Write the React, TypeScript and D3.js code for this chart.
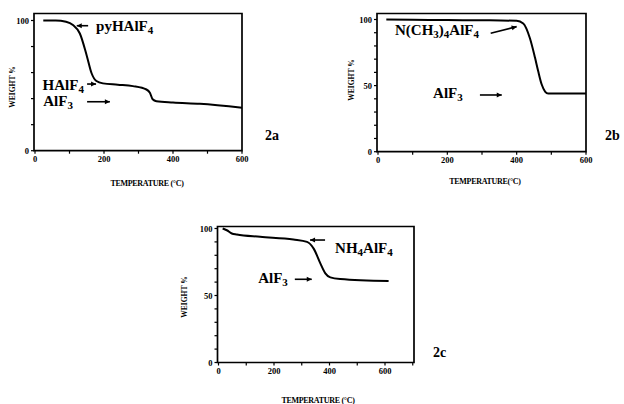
import React, { useEffect, useRef } from 'react';
import * as d3 from 'd3';

// 2a: pyHAlF4
const tempA = [24, 60, 90, 110, 130, 150, 164, 178, 197, 240, 284, 323, 333, 341, 352, 400, 478, 600];
const weightA = [100, 100, 99, 96.5, 90, 73, 59.5, 53.5, 51.7, 50.7, 49.6, 47, 44.5, 39.5, 38, 37, 36, 33];

// 2b: N(CH3)4AlF4
const tempB = [24, 100, 200, 300, 400, 419, 438, 453, 462, 472, 482, 491, 520, 600];
const weightB = [100, 99.8, 99.6, 99.4, 99, 97, 86, 71, 61, 51, 45.5, 44, 44, 44];

// 2c: NH4AlF4
const tempC = [15, 30, 48, 66, 150, 270, 319, 343, 367, 385, 403, 439, 613];
const weightC = [100, 98.7, 96.3, 95.5, 93.8, 91.8, 90, 85, 74, 66.5, 63.5, 62.3, 60.8];

const xTicks = [0, 200, 400, 600];
const yLabelsA = [0, 100];
const yLabelsBC = [0, 50, 100];

const serif = '"Liberation Serif", "DejaVu Serif", serif';

function drawPanel(svg, cfg) {
  const { temps, weights, xr, yr, frameTop, frameRight, yMinor, yLabels, xMax } = cfg;
  const x = d3.scaleLinear().domain([0, 600]).range(xr);
  const y = d3.scaleLinear().domain([0, 100]).range(yr);
  const g = svg.append('g');
  const x0 = x(0) - 1;
  const y0 = y(0);

  // frame
  g.append('path')
    .attr('d', `M${x0},${frameTop}H${frameRight}V${y0}H${x0}Z`)
    .attr('fill', 'none').attr('stroke', '#000').attr('stroke-width', 1.7);

  // y ticks
  g.selectAll('line.ym').data(yMinor).enter().append('line')
    .attr('x1', x0 - 3).attr('x2', x0).attr('y1', d => y(d)).attr('y2', d => y(d))
    .attr('stroke', '#000').attr('stroke-width', 1.2);
  g.selectAll('text.yl').data(yLabels).enter().append('text')
    .attr('x', x0 - 5).attr('y', d => y(d) + 3)
    .attr('text-anchor', 'end').attr('font-family', serif).attr('font-weight', 'bold')
    .attr('font-size', 8.5).text(d => d);

  // x ticks
  g.selectAll('line.xm').data(d3.range(0, xMax + 1, 100)).enter().append('line')
    .attr('x1', d => x(d)).attr('x2', d => x(d)).attr('y1', y0).attr('y2', y0 + 3)
    .attr('stroke', '#000').attr('stroke-width', 1.2);
  g.selectAll('text.xl').data(xTicks).enter().append('text')
    .attr('x', d => x(d)).attr('y', y0 + 11)
    .attr('text-anchor', 'middle').attr('font-family', serif).attr('font-weight', 'bold')
    .attr('font-size', 8.5).text(d => d);

  // curve
  const line = d3.line().x(d => x(d[0])).y(d => y(d[1])).curve(d3.curveMonotoneX);
  g.append('path')
    .attr('d', line(temps.map((t, i) => [t, weights[i]])))
    .attr('fill', 'none').attr('stroke', '#000').attr('stroke-width', 2);

  // axis titles
  g.append('text')
    .attr('transform', `translate(${cfg.yTitleX},${cfg.yTitleY}) rotate(-90)`)
    .attr('text-anchor', 'middle').attr('font-family', serif).attr('font-weight', 'bold')
    .attr('font-size', 7.5).text('WEIGHT %');
  g.append('text')
    .attr('x', cfg.xTitleX).attr('y', cfg.xTitleY)
    .attr('text-anchor', 'middle').attr('font-family', serif).attr('font-weight', 'bold')
    .attr('font-size', 8).attr('letter-spacing', -0.3).text(cfg.xTitle);

  // annotations
  cfg.labels.forEach(l => {
    const t = g.append('text').attr('x', x(l.t)).attr('y', y(l.w))
      .attr('font-family', serif).attr('font-weight', 'bold').attr('font-size', 15);
    l.parts.forEach(p => {
      const s = t.append('tspan').text(p[0]);
      if (p[1]) s.attr('font-size', 11).attr('dy', 3);
      else s.attr('dy', p[2] ? -3 : 0);
    });
  });
  cfg.arrows.forEach(a => {
    const x1 = x(a[0]), y1 = y(a[1]), x2 = x(a[2]), y2 = y(a[3]);
    const ang = Math.atan2(y2 - y1, x2 - x1);
    g.append('line').attr('x1', x1).attr('y1', y1).attr('x2', x2).attr('y2', y2)
      .attr('stroke', '#000').attr('stroke-width', 1.6);
    const hl = 5, hw = 2.5;
    const bx = x2 - hl * Math.cos(ang), by = y2 - hl * Math.sin(ang);
    g.append('path')
      .attr('d', `M${x2},${y2}L${bx - hw * Math.sin(ang)},${by + hw * Math.cos(ang)}L${bx + hw * Math.sin(ang)},${by - hw * Math.cos(ang)}Z`)
      .attr('fill', '#000');
  });
  g.append('text').attr('x', x(cfg.tag[1])).attr('y', y(cfg.tag[2]))
    .attr('font-family', serif).attr('font-weight', 'bold').attr('font-size', 14).text(cfg.tag[0]);
}

export default function App() {
  const ref = useRef(null);

  useEffect(() => {
    const svg = d3.select(ref.current);
    svg.selectAll('*').remove();

    drawPanel(svg, {
      temps: tempA, weights: weightA, xr: [35, 242], yr: [150.7, 20.5],
      frameTop: 13.5, frameRight: 242, xMax: 600,
      yMinor: d3.range(0, 101, 20), yLabels: yLabelsA,
      yTitleX: 15, yTitleY: 87, xTitleX: 147, xTitleY: 186, xTitle: 'TEMPERATURE (°C)',
      labels: [
        { t: 177, w: 92.3, parts: [['pyHAlF'], ['4', true]] },
        { t: 22, w: 46.6, parts: [['HAlF'], ['4', true]] },
        { t: 24, w: 34.3, parts: [['AlF'], ['3', true]] },
      ],
      arrows: [[154, 96, 121, 96], [151, 51.2, 177, 51.2], [151, 37.6, 217, 37.6]],
      tag: ['2a', 667, 8.2],
    });

    drawPanel(svg, {
      temps: tempB, weights: weightB, xr: [378, 586], yr: [151.7, 19.5],
      frameTop: 13.5, frameRight: 586, xMax: 600,
      yMinor: d3.range(0, 101, 10), yLabels: yLabelsBC,
      yTitleX: 354, yTitleY: 80, xTitleX: 485, xTitleY: 184, xTitle: 'TEMPERATURE(°C)',
      labels: [
        { t: 49, w: 88.3, parts: [['N(CH'], ['3', true], [')', false, true], ['4', true], ['AlF', false, true], ['4', true]] },
        { t: 159, w: 40.6, parts: [['AlF'], ['3', true]] },
      ],
      arrows: [[325, 89.6, 400, 94.6], [294, 42.9, 357, 42.9]],
      tag: ['2b', 655, 8.8],
    });

    drawPanel(svg, {
      temps: tempC, weights: weightC, xr: [218.5, 385], yr: [362.5, 228.5],
      frameTop: 226.5, frameRight: 414, xMax: 700,
      yMinor: d3.range(0, 101, 10), yLabels: yLabelsBC,
      yTitleX: 187, yTitleY: 297, xTitleX: 318, xTitleY: 403, xTitle: 'TEMPERATURE (°C)',
      labels: [
        { t: 420, w: 81.7, parts: [['NH'], ['4', true], ['AlF', false, true], ['4', true]] },
        { t: 143, w: 59.3, parts: [['AlF'], ['3', true]] },
      ],
      arrows: [[384, 91.4, 330, 91.4], [275, 62.1, 336, 62.1]],
      tag: ['2c', 773, 4.1],
    });
  }, []);

  return (
    <svg ref={ref} width={624} height={404}
      style={{ position: 'absolute', left: 0, top: 0, background: '#fff' }} />
  );
}
